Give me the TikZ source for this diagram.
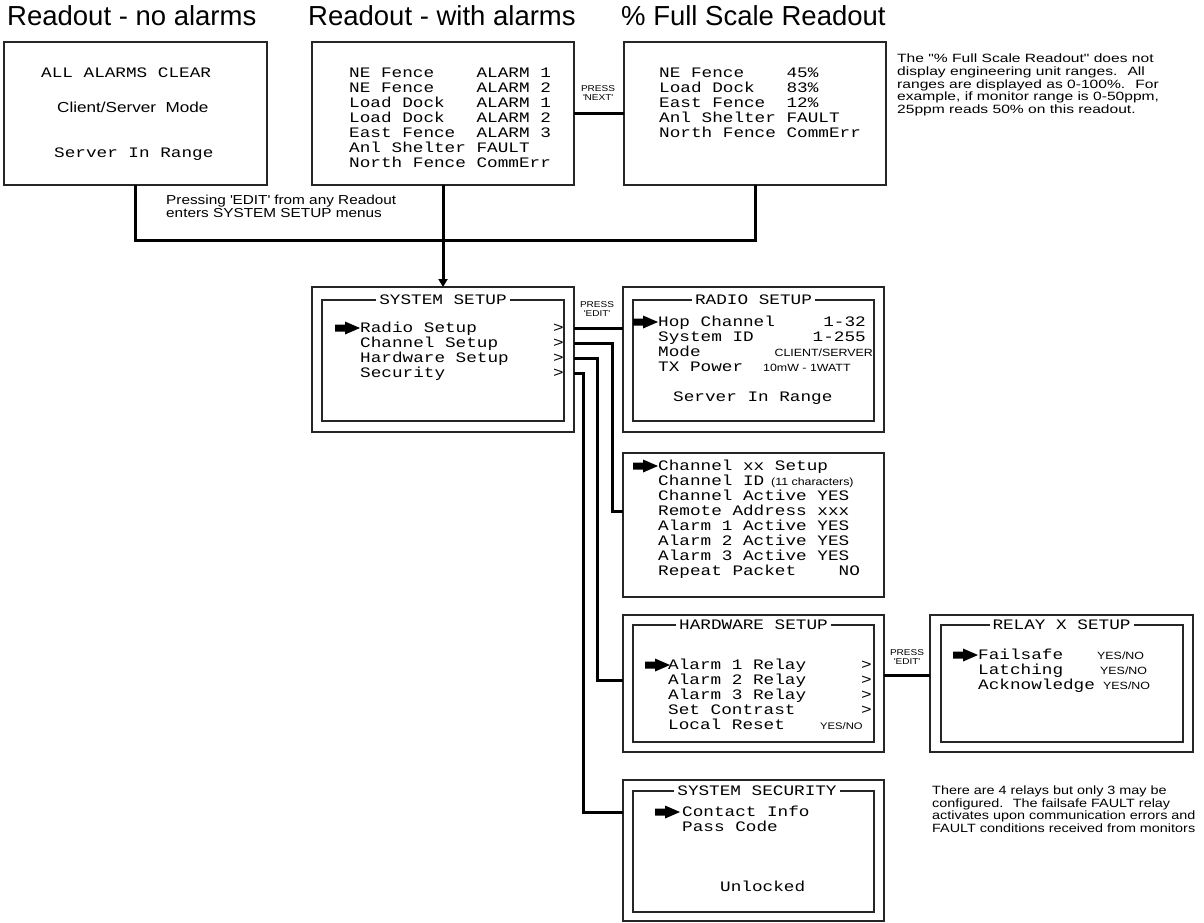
\documentclass[tikz,border=0pt]{standalone}
\usepackage{fontspec}
\setmainfont{Liberation Sans}
\newfontfamily\lcdfam[FakeStretch=1.22]{Liberation Mono}
\newfontfamily\arfam[FakeStretch=1.18]{Liberation Sans}
\newfontfamily\notefamA[FakeStretch=1.3]{Liberation Sans}
\newfontfamily\notefamB[FakeStretch=1.2]{Liberation Sans}
\usetikzlibrary{arrows.meta}
\newcommand\lcdf{\lcdfam\fontsize{14.5}{15}\selectfont}
\newcommand\arf[1]{\arfam\fontsize{#1}{#1}\selectfont}
\newcommand\sq{\textquotesingle}
\tikzset{
  pointer/.pic={\fill (0,-3.5) -- (10,-3.5) -- (10,-6.5) -- (25,0) -- (10,6.5) -- (10,3.5) -- (0,3.5) -- cycle;},
  box/.style={draw=black!85, line width=1.1pt, inner sep=0pt, outer sep=0pt, anchor=north west},
  ibox/.style={draw=black!85, line width=1.1pt},
  conn/.style={line width=3pt, line join=miter},
  lt/.style={font=\lcdf, anchor=west, inner sep=0pt, text height=9.5pt, text depth=0pt},
  lte/.style={lt, anchor=east},
  ttl/.style={lt, anchor=center, fill=white, inner xsep=3pt},
  sm/.style={font=\arf{10.5}, anchor=west, inner sep=0pt, text height=7.6pt, text depth=0pt},
  press/.style={font=\arf{8.5}, align=center, inner sep=0pt},
  nt/.style={align=left, anchor=north west, inner sep=0pt},
  hd/.style={font=\fontsize{27.5}{27.5}\selectfont, anchor=base west, inner sep=0pt}
}
\begin{document}
\begin{tikzpicture}[x=1pt,y=-1pt]
\useasboundingbox (0,0) rectangle (1204,922);
\fill[white] (0,0) rectangle (1204,922);

% titles
\node[hd] (t1) at (7,25) {Readout - no alarms};
\node[hd] (t2) at (308,25) {Readout - with alarms};
\node[hd] (t3) at (621,25) {\% Full Scale Readout};

% readout boxes
\node[box, minimum width=263pt, minimum height=143pt] (b1) at (4,42) {};
\node[box, minimum width=262pt, minimum height=143pt] (b2) at (312,42) {};
\node[box, minimum width=262pt, minimum height=143pt] (b3) at (624,42) {};

\node[lt] (b1a) at (41,73) {ALL~ALARMS~CLEAR};
\node[font=\arf{14.5}, anchor=west, inner sep=0pt, text height=10.4pt, text depth=0pt] (b1b) at (57,107) {Client/Server~~Mode};
\node[lt] (b1c) at (54,153) {Server~In~Range};

\foreach \t [count=\i from 0] in {NE~Fence~~~~ALARM~1,NE~Fence~~~~ALARM~2,Load~Dock~~~ALARM~1,Load~Dock~~~ALARM~2,East~Fence~~ALARM~3,Anl~Shelter~FAULT,North~Fence~CommErr}
  \node[lt] (b2l\i) at (349,{73+15*\i}) {\t};
\foreach \t [count=\i from 0] in {NE~Fence~~~~45\%,Load~Dock~~~83\%,East~Fence~~12\%,Anl~Shelter~FAULT,North~Fence~CommErr}
  \node[lt] (b3l\i) at (659,{73+15*\i}) {\t};

\node[press] (pn) at (598,93) {PRESS\\\sq NEXT\sq};
\draw[conn] (b2.east) -- (b3.west);

% top connectors
\coordinate (j) at (443,240);
\draw[conn] (b1.south) |- (j) -| (b3.south);
\node[nt, font=\arf{13}] (pe) at (166,195) {Pressing \sq EDIT\sq\ from any Readout\\enters SYSTEM SETUP menus};

% system setup
\node[box, minimum width=262pt, minimum height=145pt] (sys) at (312,287) {};
\draw[ibox] (322,300) rectangle (564,421);
\node[ttl] (syst) at (443,300) {SYSTEM~SETUP};
\pic at (335,328) {pointer};
\foreach \t [count=\i from 0] in {Radio~Setup,Channel~Setup,Hardware~Setup,Security}{
  \node[lt] (sl\i) at (360,{328+15*\i}) {\t};
  \node[lt] (sg\i) at (553,{328+15*\i}) {>};
}
\draw[conn,-{Triangle[width=9pt,length=8pt]}] (b2.south) -- (sys.north);

% radio setup
\node[box, minimum width=261pt, minimum height=145pt] (radio) at (623,287) {};
\draw[ibox] (633,300) rectangle (874,421);
\node[ttl] (radt) at (753.5,300) {RADIO~SETUP};
\pic at (633,322) {pointer};
\node[lt] (r1) at (658,322) {Hop~Channel};
\node[lt] (r2) at (658,337) {System~ID};
\node[lt] (r3) at (658,352) {Mode};
\node[lt] (r4) at (658,367) {TX~Power};
\node[lte] (r1v) at (866,322) {1-32};
\node[lte] (r2v) at (866,337) {1-255};
\node[sm, anchor=east] (r3v) at (873,353) {CLIENT/SERVER};
\node[sm] (r4v) at (763,368) {10mW - 1WATT};
\node[lt] (r5) at (673,397) {Server~In~Range};

\coordinate (yr) at (600,328);
\draw[conn] (sys.east |- yr) -- (radio.west |- yr);
\node[press] (pe1) at (597,309) {PRESS\\\sq EDIT\sq};

% channel setup
\node[box, minimum width=261pt, minimum height=144pt] (chan) at (623,453) {};
\pic at (633,466) {pointer};
\foreach \t [count=\i from 0] in {Channel~xx~Setup,Channel~ID,Channel~Active~YES,Remote~Address~xxx,Alarm~1~Active~YES,Alarm~2~Active~YES,Alarm~3~Active~YES,Repeat~Packet~~~~NO}
  \node[lt] (cl\i) at (658,{466+15*\i}) {\t};
\node[sm] (cid) at (771,482) {(11 characters)};

\coordinate (ca) at (612,343);
\coordinate (cb) at (612,511);
\draw[conn] (sys.east |- ca) -- (ca) -- (cb) -- (chan.west |- cb);

% hardware setup
\node[box, minimum width=261pt, minimum height=137pt] (hw) at (623,615) {};
\draw[ibox] (633,625) rectangle (874,742);
\node[ttl] (hwt) at (753.5,625) {HARDWARE~SETUP};
\pic at (645,665) {pointer};
\foreach \t [count=\i from 0] in {Alarm~1~Relay,Alarm~2~Relay,Alarm~3~Relay,Set~Contrast,Local~Reset}
  \node[lt] (hl\i) at (668,{665+15*\i}) {\t};
\foreach \i in {0,1,2,3}
  \node[lt] (hg\i) at (861,{665+15*\i}) {>};
\node[sm, font=\arf{9.5}, text height=6.9pt] (hyn) at (820,726) {YES/NO};

\coordinate (ha) at (597,358);
\coordinate (hb) at (597,680);
\draw[conn] (sys.east |- ha) -- (ha) -- (hb) -- (hw.west |- hb);

% relay setup
\node[box, minimum width=263pt, minimum height=137pt] (relay) at (930,615) {};
\draw[ibox] (941,625) rectangle (1183,742);
\node[ttl] (rlt) at (1061.5,625) {RELAY~X~SETUP};
\pic at (953,655) {pointer};
\node[lt] (rl1) at (978,655) {Failsafe};
\node[lt] (rl2) at (978,670) {Latching};
\node[lt] (rl3) at (978,685) {Acknowledge};
\node[sm] (ry1) at (1097,656) {YES/NO};
\node[sm] (ry2) at (1100,671) {YES/NO};
\node[sm] (ry3) at (1103,686) {YES/NO};

\coordinate (rl) at (905,675);
\draw[conn] (hw.east |- rl) -- (relay.west |- rl);
\node[press] (pe2) at (907,657) {PRESS\\\sq EDIT\sq};

% security
\node[box, minimum width=261pt, minimum height=141pt] (sec) at (623,780) {};
\draw[ibox] (633,791) rectangle (874,912);
\node[ttl] (sect) at (757,791) {SYSTEM~SECURITY};
\pic at (655,812) {pointer};
\node[lt] (sc1) at (682,812) {Contact~Info};
\node[lt] (sc2) at (682,827) {Pass~Code};
\node[lt] (sc3) at (720,887) {Unlocked};

\coordinate (sa) at (583,373);
\coordinate (sb) at (583,812);
\draw[conn] (sys.east |- sa) -- (sa) -- (sb) -- (sec.west |- sb);

% notes
\node[nt, font=\notefamA\fontsize{12}{12.6}\selectfont] (n1) at (897,54) {The "\% Full Scale Readout" does not\\display engineering unit ranges.~ All\\ranges are displayed as 0-100\%.~ For\\example, if monitor range is 0-50ppm,\\25ppm reads 50\% on this readout.};
\node[nt, font=\notefamB\fontsize{12}{12.4}\selectfont] (n2) at (932,786) {There are 4 relays but only 3 may be\\configured.~ The failsafe FAULT relay\\activates upon communication errors and\\FAULT conditions received from monitors};
\end{tikzpicture}
\end{document}
